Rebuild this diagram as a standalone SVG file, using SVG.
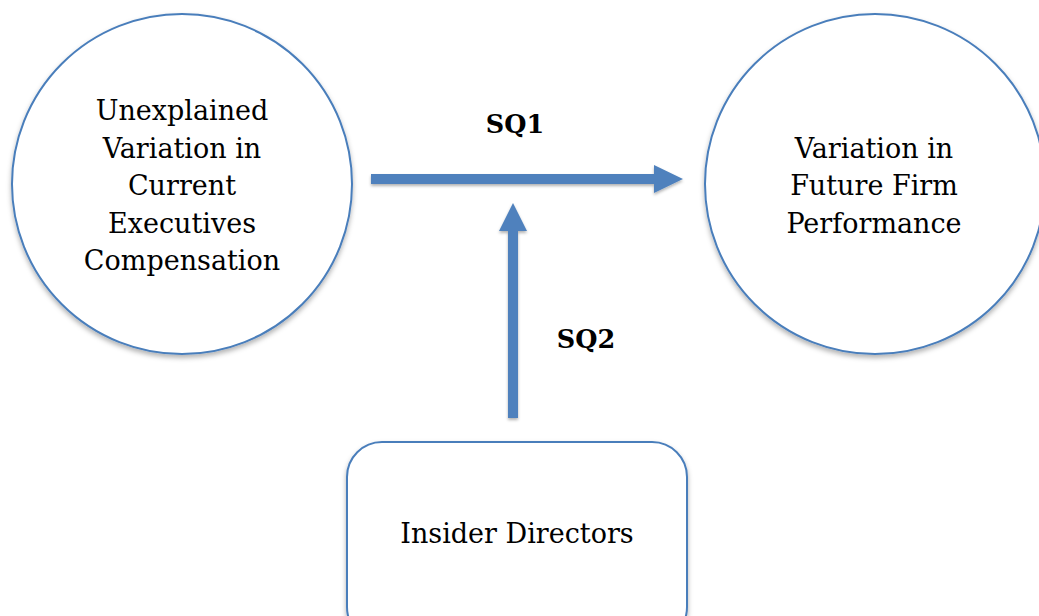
<svg xmlns="http://www.w3.org/2000/svg" width="1039" height="616" viewBox="0 0 1039 616">
<style>
.node{fill:#ffffff;stroke:#4a7ebb;stroke-width:2;filter:url(#sh)}
.t{font-family:"DejaVu Serif","Liberation Serif",serif;font-size:27px;fill:#000;text-anchor:middle}
.b{font-family:"DejaVu Serif","Liberation Serif",serif;font-size:25.5px;font-weight:bold;fill:#000;text-anchor:middle}
.arr{fill:#4f81bd;filter:url(#sh2)}
</style>
<defs>
<filter id="sh" x="-10%" y="-10%" width="120%" height="125%">
<feDropShadow dx="0" dy="3" stdDeviation="2.5" flood-color="#000" flood-opacity="0.3"/>
</filter>
<filter id="sh2" x="-10%" y="-20%" width="120%" height="140%">
<feDropShadow dx="0" dy="2" stdDeviation="1.5" flood-color="#000" flood-opacity="0.3"/>
</filter>
</defs>
<rect width="1039" height="616" fill="#fff"/>
<g id="connectors">
<polygon class="arr" points="371,174 654,174 654,165 683,179 654,193 654,184 371,184"/>
<polygon class="arr" points="508,418 508,231 499,231 513,203 527,231 518,231 518,418"/>
<text class="b" x="515" y="133">SQ1</text>
<text class="b" x="586" y="348">SQ2</text>
</g>
<g id="node-unexplained">
<circle class="node" cx="182" cy="184" r="170"/>
<text class="t" x="182" y="120">Unexplained</text>
<text class="t" x="182" y="157.5">Variation in</text>
<text class="t" x="182" y="195">Current</text>
<text class="t" x="182" y="232.5">Executives</text>
<text class="t" x="182" y="270">Compensation</text>
</g>
<g id="node-future">
<circle class="node" cx="875" cy="184" r="170"/>
<text class="t" x="874" y="157.5">Variation in</text>
<text class="t" x="874" y="195">Future Firm</text>
<text class="t" x="874" y="232.5">Performance</text>
</g>
<g id="node-insider">
<rect class="node" x="347" y="442" width="340" height="200" rx="35" ry="35"/>
<text class="t" x="517" y="543">Insider Directors</text>
</g>
</svg>
